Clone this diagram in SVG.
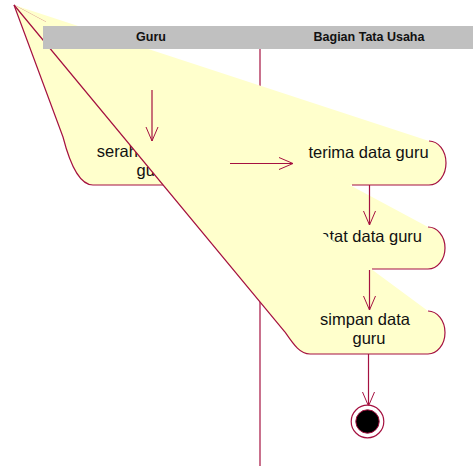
<svg xmlns="http://www.w3.org/2000/svg" width="473" height="466" viewBox="0 0 473 466">
  <defs>
    <marker id="open-arrow" markerUnits="userSpaceOnUse" markerWidth="16" markerHeight="14" viewBox="0 0 16 14" refX="15" refY="7" orient="auto">
      <path d="M1,1 L15,7 L1,13" fill="none" stroke="#A51140" stroke-width="1"/>
    </marker>
  </defs>
  <style>
    .lane { stroke: #A51140; stroke-width: 1.2; fill: none; }
    .act-fill { fill: #FFFFCC; stroke: none; }
    .act-line { fill: none; stroke: #A51140; stroke-width: 1.2; }
    .ghost { fill: none; stroke: #A51140; stroke-width: 1; opacity: 0.35; }
    .label { font-family: "Liberation Sans", Arial, sans-serif; font-size: 16.5px; fill: #111; text-anchor: middle; }
    .head { font-family: "Liberation Sans", Arial, sans-serif; font-size: 12.5px; font-weight: bold; fill: #111; text-anchor: middle; }
    .flow { fill: none; stroke: #A51140; stroke-width: 1.2; marker-end: url(#open-arrow); }
  </style>

  <rect x="0" y="0" width="473" height="466" fill="#FFFFFF"/>

  <!-- swimlane divider -->
  <line class="lane" x1="260" y1="48" x2="260" y2="466"/>

  <!-- activity: serahkan data guru -->
  <g id="serahkan-data-guru">
    <path class="act-fill" d="M14,5 L230,140 L230,185 L93,185 C82,185 72,172 63,137 Z"/>
    <path class="act-line" d="M230,185 L93,185 C82,185 72,172 63,137 L14,5"/>
    <text class="label" x="149" y="157">serahkan data</text>
    <text class="label" x="153" y="176">guru</text>
  </g>

  <!-- activity: terima data guru (fill runs on under the next shape) -->
  <g id="terima-data-guru">
    <path class="act-fill" d="M14,5 L429,141 A17,22 0 0 1 429,185 L352,185 L300,192 Z"/>
    <path class="act-line" d="M429,141 A17,22 0 0 1 429,185 L352,185"/>
    <path class="ghost" d="M14,5 L46,22"/>
    <text class="label" x="368.5" y="158">terima data guru</text>
  </g>

  <!-- activity: catat data guru -->
  <g id="catat-data-guru">
    <path class="act-fill" d="M14,5 L428,227 A17,21 0 0 1 428,269 L372,269 L330,272 Z"/>
    <path class="act-line" d="M428,227 A17,21 0 0 1 428,269 L372,269"/>
    <text class="label" x="367" y="242">catat data guru</text>
  </g>

  <!-- activity: simpan data guru -->
  <g id="simpan-data-guru">
    <path class="act-fill" d="M14,5 L428,311 A17,21.5 0 0 1 428,354 L310,354 C300,354 294,345 285,332 Z"/>
    <path class="act-line" d="M428,311 A17,21.5 0 0 1 428,354 L310,354 C300,354 294,345 285,332 L14,5"/>
    <text class="label" x="365" y="325">simpan data</text>
    <text class="label" x="369" y="343.5">guru</text>
  </g>

  <!-- swimlane header -->
  <g id="lane-header">
    <rect x="43" y="26" width="430" height="23" fill="#C0C0C0"/>
    <text class="head" x="151" y="41">Guru</text>
    <text class="head" x="369" y="41">Bagian Tata Usaha</text>
  </g>

  <!-- control flows -->
  <g id="connectors">
    <path class="flow" d="M152,90 L152,141"/>
    <path class="flow" d="M230,163.5 L293,163.5"/>
    <path class="flow" d="M369.5,185 L369.5,225"/>
    <path class="flow" d="M369.5,270 L369.5,310"/>
    <path class="flow" d="M368.5,354 L368.5,406"/>
  </g>

  <!-- final state -->
  <g id="final-state">
    <circle cx="367.5" cy="421.5" r="16.3" fill="#FFFFFF" stroke="#A51140" stroke-width="1.2"/>
    <circle cx="367.5" cy="421.5" r="11.7" fill="#000000" stroke="#A51140" stroke-width="1"/>
  </g>
</svg>
